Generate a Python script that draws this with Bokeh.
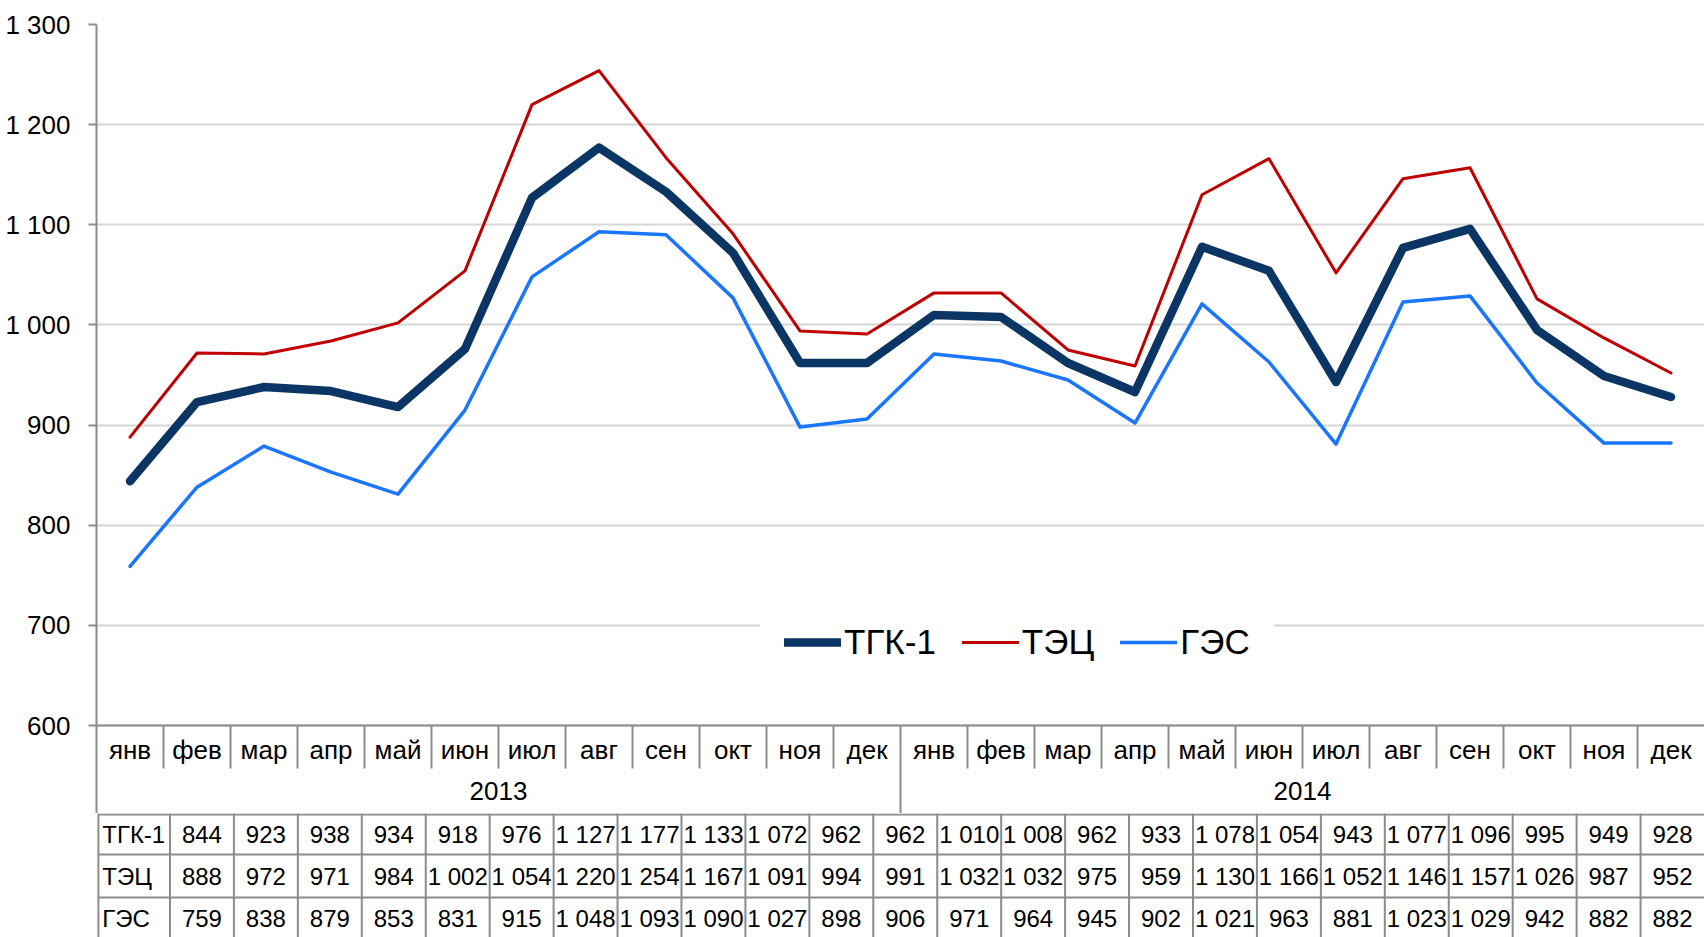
from bokeh.plotting import figure
from bokeh.models import Range1d, FixedTicker, Legend, LegendItem
from bokeh.layouts import column
from bokeh.core.properties import value
from bokeh.embed import file_html
from bokeh.resources import INLINE

# ---------------- data ----------------
months = ["янв", "фев", "мар", "апр", "май", "июн", "июл", "авг", "сен", "окт", "ноя", "дек"]
years = ["2013", "2014"]
categories = months * len(years)
series_names = ["ТГК-1", "ТЭЦ", "ГЭС"]
tgk1 = [844, 923, 938, 934, 918, 976, 1127, 1177, 1133, 1072, 962, 962,
        1010, 1008, 962, 933, 1078, 1054, 943, 1077, 1096, 995, 949, 928]
tec = [888, 972, 971, 984, 1002, 1054, 1220, 1254, 1167, 1091, 994, 991,
       1032, 1032, 975, 959, 1130, 1166, 1052, 1146, 1157, 1026, 987, 952]
ges = [759, 838, 879, 853, 831, 915, 1048, 1093, 1090, 1027, 898, 906,
       971, 964, 945, 902, 1021, 963, 881, 1023, 1029, 942, 882, 882]
series_values = [tgk1, tec, ges]
y_ticks = [600, 700, 800, 900, 1000, 1100, 1200, 1300]


def fmt(v):
    return f"{v:,}".replace(",", " ")


# ---------------- layout / style ----------------
FNAME = "Liberation Sans"
FONT = value(FNAME)
FS = "26px"      # axis, months, years
FS_T = "24px"    # table values
W = 1704
LEFT = 96
TOP = 24
Y600 = 725
P1_H = 813
P2_H = 124
N = len(categories)
CW = (W - LEFT) / N
BORDER = "#8c8c8c"
GRID = "#d6d6d6"
colors = ["#0b3564", "#c00000", "#1a76ff"]
widths = [8.5, 3, 3.5]

ymin, ymax = y_ticks[0], y_ticks[-1]
ppu = (Y600 - TOP) / (ymax - ymin)
y_start = ymin - (P1_H - Y600) / ppu

# ---------------- chart ----------------
p1 = figure(width=W, height=P1_H, x_range=Range1d(0, N), y_range=Range1d(y_start, ymax),
            output_backend="svg", toolbar_location=None, x_axis_location=None,
            min_border_left=LEFT, min_border_right=0, min_border_top=TOP, min_border_bottom=0)
p1.extra_y_ranges = {"px": Range1d(start=P1_H, end=TOP)}
p1.outline_line_color = None
p1.xgrid.visible = False
p1.background_fill_color = "white"

ax = p1.yaxis[0]
ax.ticker = FixedTicker(ticks=y_ticks, minor_ticks=[])
ax.major_label_overrides = {t: fmt(t) for t in y_ticks}
ax.axis_line_color = BORDER
ax.axis_line_width = 2
ax.major_tick_line_color = BORDER
ax.major_tick_line_width = 2
ax.major_tick_out = 8
ax.major_tick_in = 0
ax.minor_tick_line_color = None
ax.major_label_text_font = FNAME
ax.major_label_text_font_size = FS
ax.major_label_text_color = "black"
ax.major_label_standoff = 18

p1.ygrid.grid_line_color = GRID
p1.ygrid.grid_line_width = 2

xs = [i + 0.5 for i in range(N)]
renderers = []
for vals, c, w in zip(series_values, colors, widths):
    r = p1.line(xs, vals, line_color=c, line_width=w, line_cap="round", line_join="round")
    renderers.append(r)

# category rows (months / years) inside the chart figure, pixel range
p1.segment(x0=[0], y0=[Y600], x1=[N], y1=[Y600], y_range_name="px",
           line_color=BORDER, line_width=2)
sep_x = [i for i in range(1, N)]
sep_y1 = [P1_H if i % len(months) == 0 else 768 for i in sep_x]
p1.segment(x0=sep_x, y0=[Y600] * len(sep_x), x1=sep_x, y1=sep_y1, y_range_name="px",
           line_color=BORDER, line_width=2)
p1.text(x=xs, y=[749] * N, text=categories, y_range_name="px", text_align="center",
        text_baseline="alphabetic", text_font=FONT, text_font_size=FS, text_color="black")
year_x = [k * len(months) + len(months) / 2 for k in range(len(years))]
p1.text(x=year_x, y=[790] * len(years), text=years, y_range_name="px", text_align="center",
        text_baseline="alphabetic", text_font=FONT, text_font_size=FS, text_color="black")

legend = Legend(items=[LegendItem(label=n, renderers=[r]) for n, r in zip(series_names, renderers)],
                location=(664, 127), orientation="horizontal")
legend.label_text_font = FNAME
legend.label_text_font_size = "35px"
legend.label_text_color = "black"
legend.glyph_width = 57
legend.glyph_height = 40
legend.label_standoff = 3
legend.spacing = 26
legend.padding = 24
legend.margin = 0
legend.border_line_alpha = 0
legend.background_fill_color = "white"
legend.background_fill_alpha = 1
p1.add_layout(legend, "center")

# ---------------- data table ----------------
PL = 19
LX = (21 - LEFT) / CW
p2 = figure(width=W, height=P2_H, x_range=Range1d((PL - LEFT) / CW, N), y_range=Range1d(P2_H, 0),
            output_backend="svg", toolbar_location=None, x_axis_location=None, y_axis_location=None,
            min_border_left=PL, min_border_right=0, min_border_top=0, min_border_bottom=0)
p2.outline_line_color = None
p2.grid.visible = False

row_lines = [1, 41, 84, 126]
p2.segment(x0=[LX] * len(row_lines), y0=row_lines, x1=[N] * len(row_lines), y1=row_lines,
           line_color=BORDER, line_width=2)
vx = [LX] + list(range(0, N))
p2.segment(x0=vx, y0=[0] * len(vx), x1=vx, y1=[P2_H + 10] * len(vx),
           line_color=BORDER, line_width=2)
baselines = [21, 63, 105]
p2.text(x=[LX + 4 / CW] * len(series_names), y=baselines, text=series_names, text_align="left",
        text_baseline="alphabetic", text_font=FONT, text_font_size=FS_T, text_color="black")
for vals, b in zip(series_values, baselines):
    p2.text(x=xs, y=[b] * N, text=[fmt(v) for v in vals], text_align="center",
            text_baseline="alphabetic", text_font=FONT, text_font_size=FS_T, text_color="black")

layout = column(p1, p2, spacing=0)
open("out.html", "w").write(file_html(layout, INLINE))
